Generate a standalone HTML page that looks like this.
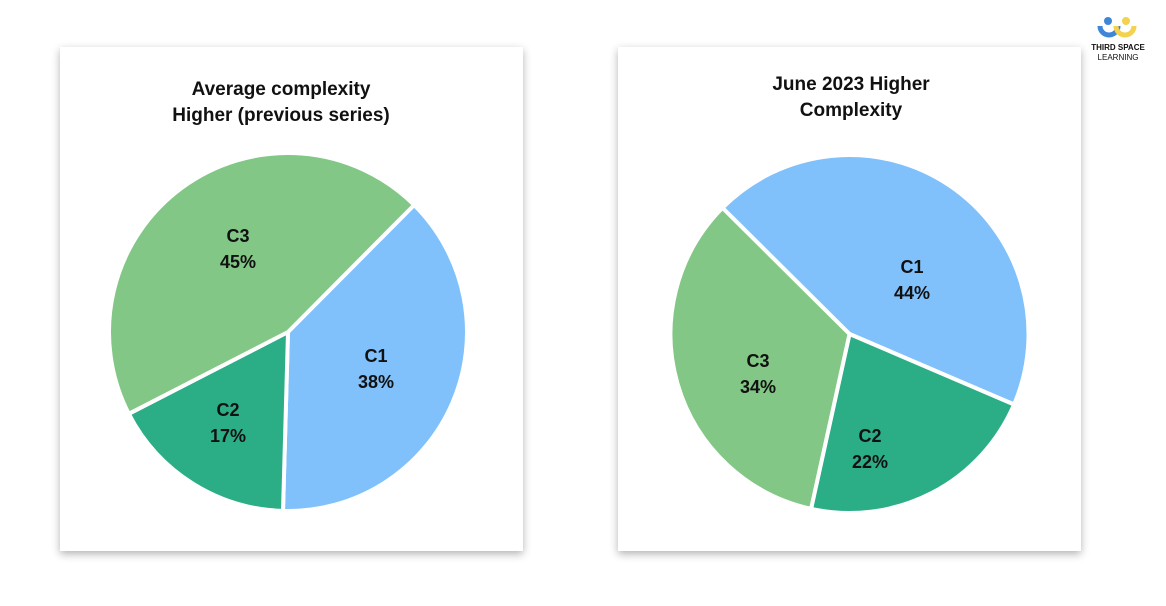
<!DOCTYPE html>
<html><head><meta charset="utf-8"><style>
body{margin:0;width:1166px;height:606px;background:#fff;overflow:hidden;font-family:"Liberation Sans",sans-serif}
.card{position:absolute;top:47px;width:463px;height:504px;background:#fff;box-shadow:0 3px 8px rgba(0,0,0,0.3)}
svg{position:absolute;left:0;top:0}
text{font-family:"Liberation Sans",sans-serif;font-weight:bold;fill:#111}
</style></head><body>
<div class="card" style="left:60px"></div>
<div class="card" style="left:618px"></div>
<svg width="1166" height="606" id="s">
<g id="g"></g>
<text x="281" y="95" font-size="19" text-anchor="middle">Average complexity</text>
<text x="281" y="121" font-size="19" text-anchor="middle">Higher (previous series)</text>
<text x="851" y="90" font-size="19" text-anchor="middle">June 2023 Higher</text>
<text x="851" y="116" font-size="19" text-anchor="middle">Complexity</text>
<g font-size="18" text-anchor="middle">
<text x="238" y="242">C3</text><text x="238" y="268">45%</text>
<text x="376" y="362">C1</text><text x="376" y="388">38%</text>
<text x="228" y="416">C2</text><text x="228" y="442">17%</text>
<text x="912" y="273">C1</text><text x="912" y="299">44%</text>
<text x="758" y="367">C3</text><text x="758" y="393">34%</text>
<text x="870" y="442">C2</text><text x="870" y="468">22%</text>
</g>
<g transform="translate(1100,16)">
<circle cx="8" cy="5" r="4" fill="#3d86d8"/><circle cx="26" cy="5" r="4" fill="#f2d24e"/>
<path d="M0 10 A9 9 0 0 0 18 10" stroke="#3d86d8" stroke-width="5" fill="none"/>
<path d="M16 10 A9 9 0 0 0 34 10" stroke="#f2d24e" stroke-width="5" fill="none"/>
<text x="18" y="34" font-size="8" text-anchor="middle">THIRD SPACE</text>
<text x="18" y="44" font-size="8" text-anchor="middle" style="font-weight:normal" fill="#444">LEARNING</text>
</g>
</svg>
<script>
function pie(cx,cy,r,start,sl){var a=start,h='';sl.forEach(function(s){var b=a+s[0]*3.6;
function p(t){t=t*Math.PI/180;return (cx+r*Math.sin(t)).toFixed(2)+' '+(cy-r*Math.cos(t)).toFixed(2);}
h+='<path d="M'+cx+' '+cy+' L'+p(a)+' A'+r+' '+r+' 0 '+((b-a)>180?1:0)+' 1 '+p(b)+' Z" fill="'+s[1]+'" stroke="#fff" stroke-width="4" stroke-linejoin="round"/>';a=b;});return h;}
document.getElementById('g').innerHTML=
pie(288,332,179,44.8,[[38,'#80c1fc'],[17,'#2bae86'],[45,'#82c785']])+
pie(849.5,334,179,314.8,[[44,'#80c1fc'],[22,'#2bae86'],[34,'#82c785']]);
</script>
</body></html>
